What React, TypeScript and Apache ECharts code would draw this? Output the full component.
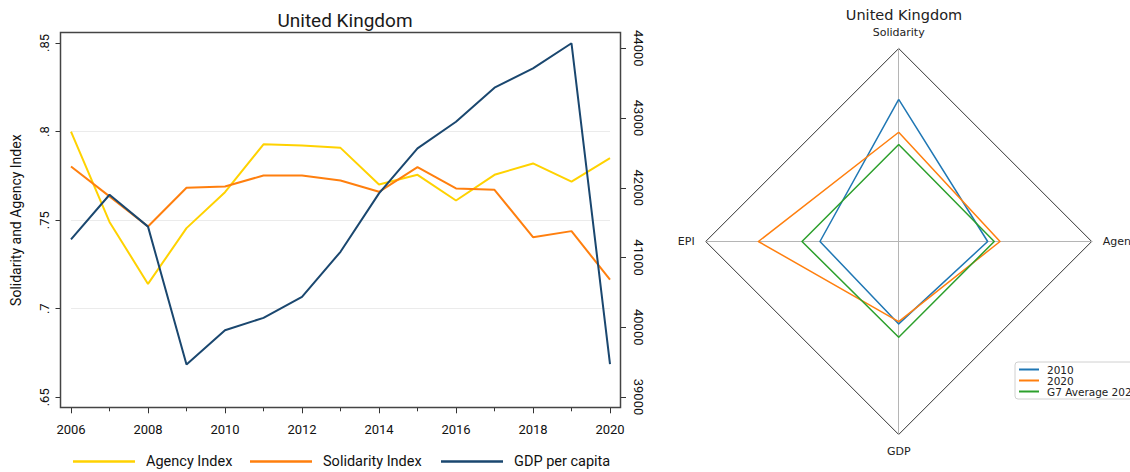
import React, { useEffect, useRef } from 'react';
import * as echarts from 'echarts';

const years = [2006, 2007, 2008, 2009, 2010, 2011, 2012, 2013, 2014, 2015, 2016, 2017, 2018, 2019, 2020];
const agencyIndex = [0.800, 0.749, 0.714, 0.7455, 0.7658, 0.7928, 0.7921, 0.7908, 0.7701, 0.7756, 0.7611, 0.7756, 0.782, 0.7718, 0.785];
const solidarityIndex = [0.7803, 0.7634, 0.7464, 0.7683, 0.769, 0.7752, 0.7752, 0.7724, 0.766, 0.7799, 0.7679, 0.7671, 0.7404, 0.7438, 0.7164];
const gdpPerCapita = [41260, 41900, 41443, 39466, 39958, 40135, 40436, 41082, 41920, 42565, 42947, 43435, 43713, 44072, 39471];

const radarAxes = ['Solidarity', 'EPI', 'GDP', 'Agency'];
const radar2010 = [0.736, 0.408, 0.427, 0.461];
const radar2020 = [0.566, 0.727, 0.415, 0.525];
const radarG7 = [0.503, 0.501, 0.496, 0.495];
const radarNames = ['2010', '2020', 'G7 Average 2020'];

const YELLOW = '#FFD200';
const ORANGE = '#FF7F0E';
const NAVY = '#1A476F';

export default function App() {
  const ref = useRef<HTMLDivElement>(null);
  useEffect(() => {
    if (!ref.current) return;
    const chart = echarts.init(ref.current, null, { renderer: 'svg' });
    const pair = (arr: number[]) => years.map((y, i) => [y, arr[i]]);
    const tickColor = '#333';
    const mkLegend = (name: string, left: number) => ({
      data: [name],
      left,
      top: 454,
      icon: 'rect',
      itemWidth: 62,
      itemHeight: 2.5,
      padding: 0,
      textStyle: { fontSize: 14.5, color: '#111', fontFamily: 'Roboto', padding: [0, 0, 0, 6] },
    });
    const option: any = {
      animation: false,
      textStyle: { fontFamily: 'Roboto' },
      title: [
        { text: 'United Kingdom', left: 340, top: 6, textAlign: 'center', textStyle: { fontSize: 19, fontWeight: 'normal', color: '#1a1a1a', fontFamily: 'Roboto' } },
        { text: 'United Kingdom', left: 899, top: 2, textAlign: 'center', textStyle: { fontSize: 14.5, fontWeight: 'normal', color: '#222', fontFamily: 'DejaVu Sans' } },
      ],
      legend: [
        mkLegend('Agency Index', 73),
        mkLegend('Solidarity Index', 250),
        mkLegend('GDP per capita', 441),
        {
          data: radarNames,
          orient: 'vertical',
          left: 1015,
          top: 362,
          icon: 'rect',
          itemWidth: 20,
          itemHeight: 2,
          itemGap: 0,
          padding: [2, 6, 2, 4],
          borderColor: '#d0d0d0',
          borderWidth: 1,
          borderRadius: 3,
          textStyle: { fontSize: 10.5, color: '#222', fontFamily: 'DejaVu Sans', padding: [0, 0, 0, 3] },
        },
      ],
      grid: [
        { left: 71, width: 539, top: 43, height: 354.3 },
        { left: 71, width: 539, top: 48.3, height: 348.7 },
      ],
      xAxis: [
        {
          type: 'value', gridIndex: 0, min: 2006, max: 2020, interval: 2, offset: 10,
          axisLine: { show: false },
          axisTick: { length: 6, lineStyle: { color: tickColor } },
          minorTick: { show: true, splitNumber: 2, length: 4, lineStyle: { color: tickColor } },
          splitLine: { show: false }, minorSplitLine: { show: false },
          axisLabel: { fontSize: 13, color: '#111', margin: 16, formatter: (v: number) => String(v) },
        },
        { type: 'value', gridIndex: 1, min: 2006, max: 2020, show: false },
      ],
      yAxis: [
        {
          type: 'value', gridIndex: 0, position: 'left', min: 0.65, max: 0.85, interval: 0.05, offset: 10.5,
          name: 'Solidarity and Agency Index', nameLocation: 'middle', nameGap: 38,
          nameTextStyle: { fontSize: 14, color: '#111', fontFamily: 'Roboto' },
          axisLine: { show: false },
          axisTick: { length: 5, lineStyle: { color: tickColor } },
          splitLine: { show: true, showMinLine: false, showMaxLine: false, lineStyle: { color: '#ebebeb', width: 1 } },
          axisLabel: {
            fontSize: 13, color: '#111', rotate: 90, margin: 10,
            formatter: (v: number) => String(+v.toFixed(2)).replace(/^0/, ''),
          },
        },
        {
          type: 'value', gridIndex: 1, position: 'right', min: 39000, max: 44000, interval: 1000, offset: 10,
          axisLine: { show: false },
          axisTick: { length: 6, lineStyle: { color: tickColor } },
          splitLine: { show: false },
          axisLabel: { fontSize: 13, color: '#111', rotate: -90, margin: 12, formatter: (v: number) => String(v) },
        },
      ],
      radar: {
        center: [898.7, 241.5],
        radius: 193,
        startAngle: 90,
        shape: 'polygon',
        splitNumber: 1,
        nameGap: 11,
        indicator: radarAxes.map((n) => ({ name: n, min: 0, max: 1 })),
        axisName: { color: '#222', fontSize: 11, fontFamily: 'DejaVu Sans' },
        splitLine: { lineStyle: { color: '#333', width: 1 } },
        splitArea: { show: false },
        axisLine: { lineStyle: { color: '#b5b5b5', width: 1 } },
        axisTick: { show: false },
        axisLabel: { show: false },
      },
      graphic: [
        { type: 'rect', shape: { x: 60.5, y: 32.5, width: 560, height: 375 }, style: { fill: 'none', stroke: '#444', lineWidth: 1.5 }, z: 10 },
      ],
      series: [
        { name: 'Agency Index', type: 'line', xAxisIndex: 0, yAxisIndex: 0, data: pair(agencyIndex), symbol: 'none', clip: false, lineStyle: { color: YELLOW, width: 2 }, itemStyle: { color: YELLOW } },
        { name: 'Solidarity Index', type: 'line', xAxisIndex: 0, yAxisIndex: 0, data: pair(solidarityIndex), symbol: 'none', clip: false, lineStyle: { color: ORANGE, width: 2 }, itemStyle: { color: ORANGE } },
        { name: 'GDP per capita', type: 'line', xAxisIndex: 1, yAxisIndex: 1, data: pair(gdpPerCapita), symbol: 'none', clip: false, lineStyle: { color: NAVY, width: 2 }, itemStyle: { color: NAVY } },
        {
          type: 'radar',
          symbol: 'none',
          data: [
            { name: radarNames[0], value: radar2010, lineStyle: { color: '#1f77b4', width: 1.5 }, itemStyle: { color: '#1f77b4' } },
            { name: radarNames[1], value: radar2020, lineStyle: { color: '#ff7f0e', width: 1.5 }, itemStyle: { color: '#ff7f0e' } },
            { name: radarNames[2], value: radarG7, lineStyle: { color: '#2ca02c', width: 1.5 }, itemStyle: { color: '#2ca02c' } },
          ],
        },
      ],
    };
    chart.setOption(option);
    return () => chart.dispose();
  }, []);
  return <div ref={ref} style={{ position: 'absolute', left: 0, top: 0, width: 1130, height: 472, background: '#fff' }} />;
}
